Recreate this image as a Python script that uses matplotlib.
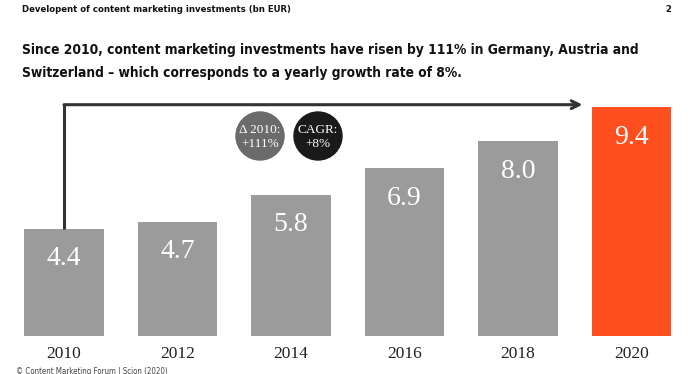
import matplotlib.pyplot as plt
from matplotlib.patches import Circle

# content marketing investments in DACH, bn EUR
years = ["2010", "2012", "2014", "2016", "2018", "2020"]
values = [4.4, 4.7, 5.8, 6.9, 8.0, 9.4]
bar_colors = ["#9b9b9b"] * 5 + ["#ff4f1f"]
bubble_texts = ["\u0394 2010:\n+111%", "CAGR:\n+8%"]
title_lines = [
    "Since 2010, content marketing investments have risen by 111% in Germany, Austria and",
    "Switzerland \u2013 which corresponds to a yearly growth rate of 8%.",
]

serif = ["Liberation Serif", "DejaVu Serif"]
narrow = dict(family="DejaVu Sans", stretch="condensed")

fig = plt.figure(figsize=(6.9, 3.74), dpi=100)
ax = fig.add_axes([0.0105, 0.1016, 0.9866, 0.651])
x = range(len(years))
bars = ax.bar(x, values, width=0.7, color=bar_colors)
ax.set_xlim(-0.5, len(years) - 0.5)
ax.set_ylim(0, 10)
for s in ax.spines.values():
    s.set_visible(False)
ax.set_yticks([])
ax.set_xticks(list(x))
ax.set_xticklabels(years, family=serif, fontsize=12.5, color="#222222")
ax.tick_params(axis="x", length=0, pad=7)

# value labels inside bars
for i, v in enumerate(values):
    ax.annotate(f"{v:.1f}", (i, v), xytext=(0, -30), textcoords="offset pixels",
                ha="center", va="center", color="white", fontsize=20, family=serif)

# bracket arrow from first bar to last bar
top = max(values) + 0.1
ax.plot([0, 0], [values[0], top], color="#333333", lw=2.2, solid_capstyle="butt")
ax.annotate("", xy=(len(years) - 1.43, top), xytext=(0, top),
            arrowprops=dict(arrowstyle="->", color="#333333", lw=2.2,
                            mutation_scale=14, shrinkA=0, shrinkB=0))

# bubbles (figure pixel coordinates)
for cx, col, txt in [(260, "#6b6b6b", bubble_texts[0]), (318, "#1a1a1a", bubble_texts[1])]:
    fig.patches.append(Circle((cx, 374 - 136), 24, transform=None, color=col,
                              figure=fig, zorder=3))
    fig.text(cx / 690, 1 - 137 / 374, txt, ha="center", va="center", color="white",
             fontsize=9.5, family=serif, linespacing=1.3, zorder=4)

# header and title
fig.text(22 / 690, 1 - 10 / 374, "Developent of content marketing investments (bn EUR)",
         fontsize=6.8, fontweight="bold", va="center", color="#111111", **narrow)
fig.text(665 / 690, 1 - 10 / 374, "2", fontsize=6.8, fontweight="bold",
         va="center", color="#111111", **narrow)
for line, ypx in zip(title_lines, [50, 73]):
    fig.text(22 / 690, 1 - ypx / 374, line, fontsize=9.9, fontweight="bold",
             va="center", color="#111111", **narrow)
fig.text(16 / 690, 1 - 371 / 374, "\u00a9 Content Marketing Forum | Scion (2020)",
         fontsize=5.7, va="center", color="#444444", **narrow)

fig.savefig("out.png", dpi=100)
